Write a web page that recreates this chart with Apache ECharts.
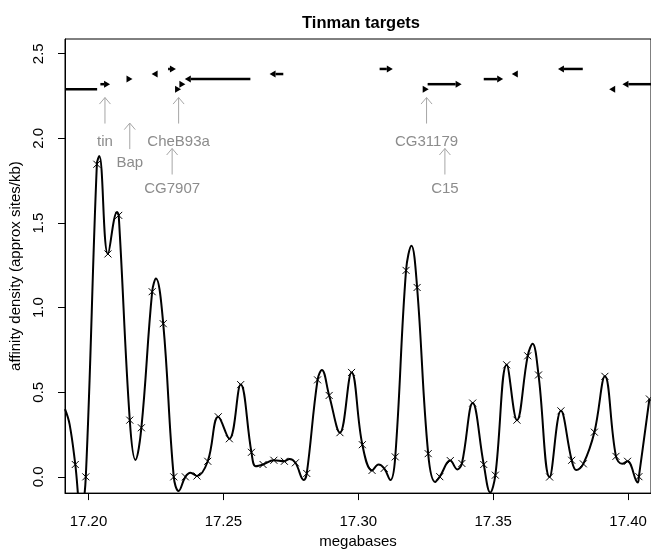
<!DOCTYPE html>
<html>
<head>
<meta charset="utf-8">
<title>Tinman targets</title>
<script src="https://cdn.jsdelivr.net/npm/echarts@6/dist/echarts.min.js"></script>
<style>
  html, body { margin: 0; padding: 0; background: #fff; }
  #chart { width: 651px; height: 554px; }
</style>
</head>
<body>
<div id="chart"></div>
<script>
// sampled windows (the "x" marks)
var markX = [17.1951, 17.1990, 17.2031, 17.2072, 17.2112, 17.2153, 17.2196, 17.2236, 17.2277, 17.2316,
             17.2359, 17.2402, 17.2442, 17.2481, 17.2522, 17.2564, 17.2604, 17.2647, 17.2687, 17.2726,
             17.2767, 17.2809, 17.2849, 17.2892, 17.2932, 17.2975, 17.3015, 17.3051, 17.3096, 17.3137,
             17.3177, 17.3218, 17.3259, 17.3302, 17.3341, 17.3384, 17.3424, 17.3465, 17.3508, 17.3550,
             17.3588, 17.3628, 17.3668, 17.3709, 17.3751, 17.3791, 17.3834, 17.3875, 17.3914, 17.3955,
             17.3998, 17.4040, 17.4079];
var markY = [0.073, 0.000, 1.847, 1.317, 1.545, 0.335, 0.290, 1.094, 0.905, 0.000,
             0.000, 0.005, 0.092, 0.355, 0.225, 0.545, 0.145, 0.073, 0.098, 0.092,
             0.083, 0.020, 0.573, 0.481, 0.261, 0.617, 0.190, 0.038, 0.050, 0.118,
             1.220, 1.119, 0.137, 0.001, 0.096, 0.079, 0.436, 0.073, 0.010, 0.662,
             0.335, 0.715, 0.602, -0.001, 0.390, 0.098, 0.077, 0.264, 0.594, 0.121,
             0.092, 0.001, 0.460];

// extra points of the smooth trace between marks (peaks, troughs, edges)
var traceX = [17.1913, 17.1930, 17.1972, 17.2040, 17.2106, 17.2174, 17.2250, 17.2334, 17.2378, 17.2620,
              17.2745, 17.2798, 17.2865, 17.3075, 17.3119, 17.3197, 17.3285, 17.3367, 17.3489, 17.3646,
              17.3808, 17.3978, 17.4036];
var traceY = [0.400, 0.310, -0.220, 1.895, 1.565, 0.100, 1.172, -0.083, 0.024, 0.063,
              0.106, -0.019, 0.631, 0.073, -0.019, 1.366, -0.030, 0.044, -0.092, 0.786,
              0.040, 0.077, -0.034];

// genes along the top
var geneStart  = [17.1850, 17.2044, 17.2142, 17.2234, 17.2295, 17.2322, 17.2337, 17.2357, 17.2671,
                  17.3079, 17.3241, 17.3257, 17.3465, 17.3569, 17.3740, 17.3930, 17.3979];
var geneEnd    = [17.2032, 17.2080, 17.2163, 17.2255, 17.2324, 17.2343, 17.2359, 17.2600, 17.2722,
                  17.3128, 17.3261, 17.3383, 17.3537, 17.3589, 17.3832, 17.3951, 17.4100];
var geneStrand = [-1, 1, 1, -1, 1, 1, 1, -1, -1, 1, 1, 1, 1, -1, -1, -1, -1];
var geneRow    = [2.29, 2.32, 2.35, 2.38, 2.41, 2.29, 2.32, 2.35, 2.38, 2.41, 2.29, 2.32, 2.35, 2.38, 2.41, 2.29, 2.32];

// labelled genes
var annLabel = ['tin', 'Bap', 'CheB93a', 'CG7907', 'CG31179', 'C15'];
var annX     = [17.2061, 17.2153, 17.2334, 17.2310, 17.3253, 17.3321];
var annTier  = [0, 1, 0, 2, 0, 2];

var xTicks = [17.20, 17.25, 17.30, 17.35, 17.40];
var yTicks = [0.0, 0.5, 1.0, 1.5, 2.0, 2.5];

var FONT = '"Liberation Sans", Arial, Helvetica, sans-serif';
var chart = echarts.init(document.getElementById('chart'));

var curve = [];
markX.forEach(function (x, i) { curve.push([x, markY[i]]); });
traceX.forEach(function (x, i) { curve.push([x, traceY[i]]); });
curve.sort(function (a, b) { return a[0] - b[0]; });

var marks = markX.map(function (x, i) { return [x, markY[i]]; });
var genes = geneStart.map(function (s, i) { return [s, geneEnd[i], geneRow[i], geneStrand[i]]; });
var anns = annX.map(function (x, i) { return [x, annTier[i]]; });

function renderMark(params, api) {
  var c = api.coord([api.value(0), api.value(1)]);
  var h = 3.5;
  var st = { stroke: '#000', lineWidth: 1 };
  return {
    type: 'group',
    children: [
      { type: 'line', shape: { x1: c[0] - h, y1: c[1] - h, x2: c[0] + h, y2: c[1] + h }, style: st },
      { type: 'line', shape: { x1: c[0] - h, y1: c[1] + h, x2: c[0] + h, y2: c[1] - h }, style: st }
    ]
  };
}

function renderGene(params, api) {
  var p1 = api.coord([api.value(0), api.value(2)]);
  var p2 = api.coord([api.value(1), api.value(2)]);
  var y = p1[1], head = 6, hw = 3.5;
  var tip, base, a, b;
  if (api.value(3) > 0) { tip = p2[0]; base = tip - head; a = p1[0]; b = base; }
  else { tip = p1[0]; base = tip + head; a = base; b = p2[0]; }
  var kids = [];
  if (b - a > 0.5) {
    kids.push({ type: 'line', shape: { x1: a, y1: y, x2: b, y2: y }, style: { stroke: '#000', lineWidth: 2.5 } });
  }
  kids.push({ type: 'polygon', shape: { points: [[tip, y], [base, y - hw], [base, y + hw]] }, style: { fill: '#000' } });
  return { type: 'group', children: kids };
}

// arrow tip height (data units) and label offset (px) for each tier
var tierTop = [2.241, 2.090, 1.940];
var tierText = [44.5, 40.0, 40.8];

function renderAnn(params, api) {
  var tier = api.value(1);
  var top = api.coord([api.value(0), tierTop[tier]]);
  var x = top[0], y0 = top[1];
  var st = { stroke: '#a6a6a6', lineWidth: 1, fill: null };
  return {
    type: 'group',
    children: [
      { type: 'line', shape: { x1: x, y1: y0, x2: x, y2: y0 + 26 }, style: st },
      { type: 'polyline', shape: { points: [[x - 5.5, y0 + 6.5], [x, y0], [x + 5.5, y0 + 6.5]] }, style: st },
      { type: 'text', style: { text: annLabel[params.dataIndex], x: x, y: y0 + tierText[tier], align: 'center', verticalAlign: 'middle',
        fill: '#8c8c8c', fontSize: 15, fontFamily: FONT } }
    ]
  };
}

chart.setOption({
  animation: false,
  backgroundColor: '#fff',
  textStyle: { fontFamily: FONT },
  title: {
    text: 'Tinman targets',
    left: 356, top: 10, textAlign: 'center',
    textStyle: { fontFamily: FONT, fontSize: 16.5, fontWeight: 'bold', color: '#000' }
  },
  grid: { left: 62, top: 39, right: -2, bottom: 55, show: true, borderColor: '#000', borderWidth: 1, backgroundColor: 'transparent' },
  xAxis: {
    type: 'value', min: 17.19129, max: 17.40849,
    name: 'megabases', nameLocation: 'middle', nameGap: 40,
    nameTextStyle: { fontSize: 15, color: '#000', fontFamily: FONT },
    axisLine: { show: true, onZero: false, lineStyle: { color: '#000', width: 1 } },
    axisTick: { show: true, inside: false, length: 7, lineStyle: { color: '#000' }, customValues: xTicks },
    axisLabel: { customValues: xTicks, margin: 21, fontSize: 15, color: '#000', fontFamily: FONT,
      formatter: function (v) { return v.toFixed(2); } },
    splitLine: { show: false }
  },
  yAxis: {
    type: 'value', min: -0.096, max: 2.587,
    name: 'affinity density (approx sites/kb)', nameLocation: 'middle', nameGap: 42,
    nameTextStyle: { fontSize: 15, color: '#000', fontFamily: FONT },
    axisLine: { show: true, onZero: false, lineStyle: { color: '#000', width: 1 } },
    axisTick: { show: true, inside: false, length: 7, lineStyle: { color: '#000' }, customValues: yTicks },
    axisLabel: { customValues: yTicks, rotate: 90, margin: 19, fontSize: 15, color: '#000', fontFamily: FONT,
      formatter: function (v) { return v.toFixed(1); } },
    splitLine: { show: false }
  },
  series: [
    {
      type: 'line', data: curve, smooth: 0.4, symbol: 'none', clip: true,
      lineStyle: { color: '#000', width: 2 }, z: 3
    },
    { type: 'custom', data: marks, renderItem: renderMark, clip: true, z: 4 },
    { type: 'custom', data: genes, renderItem: renderGene, clip: true, z: 4 },
    { type: 'custom', data: anns, renderItem: renderAnn, clip: false, z: 4 }
  ]
});
</script>
</body>
</html>
